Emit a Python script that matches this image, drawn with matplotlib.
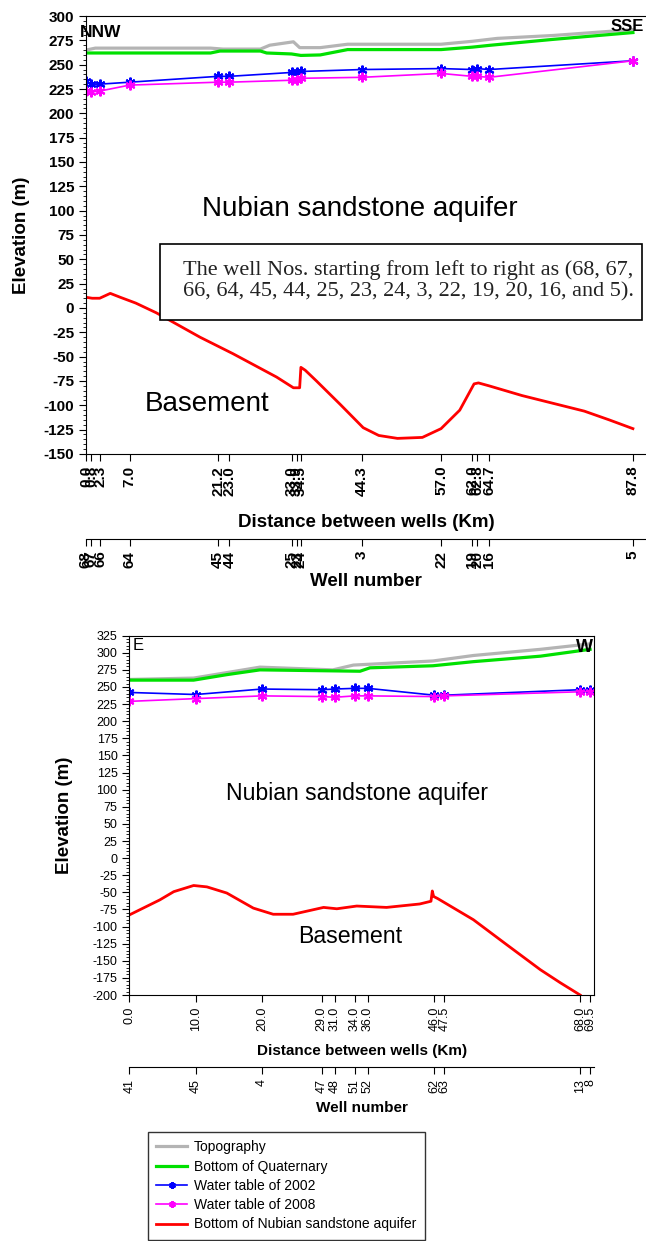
import numpy as np
from matplotlib import pyplot as plt
from matplotlib.patches import Rectangle
from matplotlib.ticker import MultipleLocator

plt.rcParams['font.family'] = ['Liberation Sans', 'DejaVu Sans']
plt.rcParams['axes.unicode_minus'] = False

# ---- top section (NNW - SSE) ----
wells_top = ["68", "67", "66", "64", "45", "44", "25", "23", "24", "3", "22", "19", "20", "16", "5"]
dist_top = [0.0, 0.8, 2.3, 7.0, 21.2, 23.0, 33.0, 33.9, 34.5, 44.3, 57.0, 62.0, 62.8, 64.7, 87.8]
wt2002_top = [233, 230, 230, 232, 238, 238, 242, 242, 243, 245, 246, 245, 246, 245, 254]
wt2008_top = [223, 222, 223, 229, 232, 232, 234, 234, 236, 237, 241, 238, 238, 237, 254]

topo_top_km = [0, 1.5, 20, 22, 28, 29.5, 33.3, 34.3, 37.6, 42, 57, 62, 66, 75, 87.8]
topo_top = [265, 267, 267, 266, 266, 270, 273.5, 267.5, 267.5, 271, 271, 274, 277, 280, 286]
quat_top_km = [0, 20, 21.5, 28, 29, 33, 34.5, 37.6, 40, 42, 57, 62, 65, 75, 87.8]
quat_top = [262, 262, 264, 264, 262, 261, 259.5, 260, 263, 265.5, 265.5, 268, 270, 276, 283]
base_top_km = [0, 1, 2.2, 3.9, 5.5, 8, 11.3, 18.3, 23.6, 30.6, 33.3, 34.3, 34.5, 35.2, 37, 40.8,
               44.5, 47, 50, 54, 57, 60, 62.3, 63, 64.7, 70, 75, 80, 84, 87.8]
base_top = [11, 10, 10, 15, 11, 5, -5, -30, -47, -71, -82, -82, -61, -64, -75, -99,
            -123, -131, -134, -133, -124, -105, -78, -77, -80, -90, -98, -106, -115, -124]

# ---- bottom section (E - W) ----
wells_bot = ["41", "45", "4", "47", "48", "51", "52", "62", "63", "13", "8"]
dist_bot = [0.0, 10.0, 20.0, 29.0, 31.0, 34.0, 36.0, 46.0, 47.5, 68.0, 69.5]
wt2002_bot = [242, 239, 247, 246, 247, 248, 248, 238, 238, 246, 245]
wt2008_bot = [229, 233, 237, 236, 235, 237, 237, 236, 237, 243, 243]

topo_bot_km = [0, 9.7, 14.7, 19.7, 30.7, 33.8, 45.8, 51.9, 62, 69.5]
topo_bot = [261, 263, 271, 279, 275, 282, 288, 296, 305, 313]
quat_bot_km = [0, 9.7, 14.7, 19.7, 34.8, 36.3, 45.8, 51.9, 62, 69.5]
quat_bot = [260, 260, 268, 275, 273, 278, 281, 287, 295, 305]
base_bot_km = [0, 4.6, 6.7, 9.7, 11.7, 14.7, 18.7, 21.7, 24.7, 29.3, 31.3, 34.3, 38.8, 43.8,
               45.5, 45.7, 45.9, 46.5, 51.9, 57, 62, 65, 68]
base_bot = [-83, -61, -49, -40, -42, -51, -73, -82, -82, -72, -74, -70, -72, -67,
            -63, -48, -56, -59, -90, -127, -163, -182, -200]

fig = plt.figure(figsize=(6.46, 12.41), dpi=100)


def draw(ax, dist, wells, topo_km, topo, quat_km, quat, wt02, wt08, base_km, base, bold, fs):
    w = "bold" if bold else "normal"
    ax.plot(topo_km, topo, color="#b4b4b4", lw=2.3)
    ax.plot(quat_km, quat, color="#00e000", lw=2.3)
    ax.plot(dist, wt02, color="blue", lw=1.2, marker=(6, 2, 0), ms=7, mew=1.5)
    ax.plot(dist, wt08, color="magenta", lw=1.2, marker=(6, 2, 0), ms=7, mew=1.5)
    ax.plot(base_km, base, color="red", lw=2)
    ax.yaxis.set_major_locator(MultipleLocator(25))
    ax.yaxis.set_minor_locator(MultipleLocator(5))
    ax.tick_params(axis="y", which="major", length=5, labelsize=fs)
    ax.tick_params(axis="y", which="minor", length=2.5)
    ax.set_xticks(dist, labels=["%.1f" % d for d in dist], rotation=90, fontsize=fs, fontweight=w)
    ax.tick_params(axis="x", length=5)
    for t in ax.get_yticklabels():
        t.set_fontweight(w)
    ax.set_ylabel("Elevation (m)", fontsize=13.5, fontweight="bold")
    sec = ax.secondary_xaxis(-0.2)
    sec.set_xticks(dist, labels=wells, rotation=90, fontsize=fs, fontweight=w)
    sec.tick_params(axis="x", length=5)
    return sec


# top chart
ax1 = fig.add_axes([0.1331, 0.6342, 0.8669, 0.3529])
sec1 = draw(ax1, dist_top, wells_top, topo_top_km, topo_top, quat_top_km, quat_top,
            wt2002_top, wt2008_top, base_top_km, base_top, True, 11)
sec1.set_location(-0.194)
ax1.set_xlim(0, 89.9)
ax1.set_ylim(-150, 300)
ax1.spines["right"].set_visible(False)
ax1.set_xlabel("Distance between wells (Km)", fontsize=13.5, fontweight="bold", labelpad=13)
sec1.set_xlabel("Well number", fontsize=13.5, fontweight="bold", labelpad=4)
ax1.yaxis.labelpad = 10
ax1.text(-1.0, 283.5, "NNW", fontsize=12.5, fontweight="bold", va="center", zorder=1, clip_on=False)
ax1.text(89.6, 289, "SSE", fontsize=12, fontweight="bold", va="center", ha="right")
ax1.text(44, 102, "Nubian sandstone aquifer", fontsize=20, ha="center", va="center")
ax1.text(19.4, -98.6, "Basement", fontsize=20, ha="center", va="center")
ax1.add_patch(Rectangle((11.9, -12), 77.3, 78.2, fc="white", ec="black", lw=1.2, zorder=3))
ax1.text(15.6, 28, "The well Nos. starting from left to right as (68, 67,\n"
         "66, 64, 45, 44, 25, 23, 24, 3, 22, 19, 20, 16, and 5).",
         fontsize=16, ha="left", va="center", linespacing=1.15,
         family=["Liberation Serif", "DejaVu Serif"], color="#222222", zorder=4)

# bottom chart
ax2 = fig.add_axes([0.2002, 0.1982, 0.7194, 0.2896])
sec2 = draw(ax2, dist_bot, wells_bot, topo_bot_km, topo_bot, quat_bot_km, quat_bot,
            wt2002_bot, wt2008_bot, base_bot_km, base_bot, False, 9)
ax2.set_xlim(0, 70.1)
ax2.set_ylim(-200, 325)
ax2.set_xlabel("Distance between wells (Km)", fontsize=11, fontweight="bold", labelpad=9)
sec2.set_xlabel("Well number", fontsize=11, fontweight="bold", labelpad=6)
ax2.yaxis.labelpad = 14
ax2.text(0.5, 311, "E", fontsize=12, va="center")
ax2.text(69.9, 307, "W", fontsize=13, fontweight="bold", va="center", ha="right")
ax2.text(34.3, 95, "Nubian sandstone aquifer", fontsize=16.6, ha="center", va="center")
ax2.text(33.3, -115, "Basement", fontsize=16.7, ha="center", va="center")

handles = ax2.get_lines()[:5]
labels = ["Topography", "Bottom of Quaternary", "Water table of 2002",
          "Water table of 2008", "Bottom of Nubian sandstone aquifer"]
leg = fig.legend(handles, labels, loc="upper left", bbox_to_anchor=(148 / 646, 1 - 1132 / 1241),
                 borderaxespad=0, fontsize=10, frameon=True, fancybox=False, edgecolor="black",
                 handlelength=2.2, handletextpad=0.5, labelspacing=0.38, borderpad=0.6,
                 markerscale=0.7)
leg.get_frame().set_linewidth(1)

fig.savefig("out.png", dpi=100)
